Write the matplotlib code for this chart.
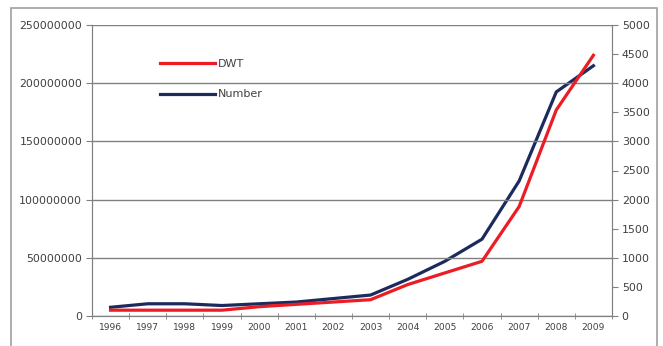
import numpy as np
import matplotlib.pyplot as plt
from matplotlib.patches import Rectangle

plt.rcParams['font.family'] = ['DejaVu Sans']

years = ['1996', '1997', '1998', '1999', '2000', '2001', '2002',
         '2003', '2004', '2005', '2006', '2007', '2008', '2009']
dwt = [5e6, 5e6, 5e6, 5e6, 8e6, 10e6, 12e6,
       14e6, 27e6, 37e6, 47e6, 94e6, 177e6, 224e6]
number = [150, 210, 210, 180, 210, 240, 300,
          360, 630, 940, 1320, 2320, 3850, 4300]

red = '#ec1c24'
navy = '#1c2b5e'
grey = '#808080'
txt = '#404040'

fig = plt.figure(figsize=(6.63, 3.46), dpi=100)
# outer chart frame
fig.patches.append(Rectangle((11 / 663, -0.05), 646 / 663, 1 - 8 / 346 + 0.05,
                             transform=fig.transFigure, fill=False,
                             edgecolor='#a0a0a0', linewidth=1.2))

ax = fig.add_axes([92 / 663, 1 - 316 / 346, 520 / 663, 291 / 346])
ax2 = ax.twinx()

x = np.arange(len(years))
ax.plot(x, dwt, color=red, linewidth=2.3, label='DWT', zorder=3)
ax2.plot(x, number, color=navy, linewidth=2.3, label='Number', zorder=2)
ax.set_zorder(ax2.get_zorder() + 1)
ax.patch.set_visible(False)

ax.set_xlim(-0.5, len(years) - 0.5)
ax.set_ylim(0, 250000000)
ax2.set_ylim(0, 5000)
ax.set_yticks(np.arange(0, 250000001, 50000000))
ax.set_yticklabels([str(v) for v in range(0, 250000001, 50000000)])
ax2.set_yticks(np.arange(0, 5001, 500))

ax.set_xticks(x)
ax.set_xticklabels(years)
ax.set_xticks(np.arange(-0.5, len(years)), minor=True)
ax.tick_params(axis='x', which='major', length=0, labelsize=6.6, colors=txt, pad=5)
ax.tick_params(axis='x', which='minor', length=4, color=grey, direction='inout')
ax.tick_params(axis='y', length=4, color=grey, labelsize=7.9, labelcolor=txt, pad=3)
ax2.tick_params(axis='y', length=4, color=grey, labelsize=7.9, labelcolor=txt, pad=3)

ax.grid(axis='y', color=grey, linewidth=1)
for a in (ax, ax2):
    for s in a.spines.values():
        s.set_color(grey)
    a.spines['top'].set_visible(False)

h1, l1 = ax.get_legend_handles_labels()
h2, l2 = ax2.get_legend_handles_labels()
ax.legend(h1 + h2, l1 + l2, loc='upper left', bbox_to_anchor=(0.112, 0.918),
          frameon=False, handlelength=4.9, handletextpad=0.25,
          labelspacing=1.85, fontsize=8, labelcolor=txt)

plt.savefig('out.png', dpi=100)
